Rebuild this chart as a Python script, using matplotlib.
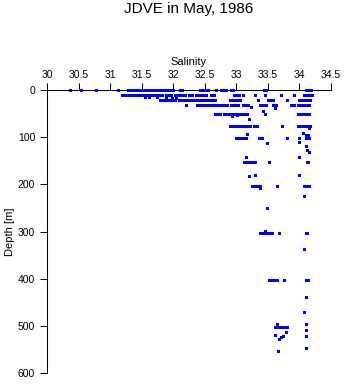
import matplotlib
matplotlib.use("Agg")
import matplotlib.pyplot as plt

plt.rcParams['font.family'] = ['Liberation Sans', 'DejaVu Sans']

title = "JDVE in May, 1986"
x_label = "Salinity"
y_label = "Depth [m]"
x_ticks = [30, 30.5, 31, 31.5, 32, 32.5, 33, 33.5, 34, 34.5]
x_tick_labels = ["30", "30.5", "31", "31.5", "32", "32.5", "33", "33.5", "34", "34.5"]
y_ticks = [0, 100, 200, 300, 400, 500, 600]

# Depth rows (depth value, salinity observations)
row_depths = [0, 11, 14, 18, 21, 31, 51, 77, 102, 152, 203, 303, 403, 503]
row_salinity = [
    [30.36, 30.54, 30.77, 31.13, 31.28, 31.32, 31.36, 31.40, 31.44, 31.48, 31.52, 31.56,
     31.60, 31.64, 31.68, 31.72, 31.76, 31.80, 31.84, 31.87, 31.92, 31.96, 32.00, 32.10,
     32.14, 32.42, 32.46, 32.50, 32.55, 32.67, 32.75, 32.79, 32.83, 32.91, 32.95, 33.44,
     33.47, 34.10, 34.13, 34.16, 34.19],
    [31.19, 31.24, 31.28, 31.32, 31.36, 31.41, 31.46, 31.50, 31.54, 31.58, 31.62, 31.66,
     31.70, 31.74, 31.78, 31.82, 31.89, 31.93, 31.97, 32.03, 32.07, 32.11, 32.15, 32.19,
     32.25, 32.29, 32.36, 32.40, 32.44, 32.48, 32.52, 32.60, 32.65, 32.96, 33.00, 33.04,
     33.10, 33.30, 33.45, 33.70, 33.92, 34.08, 34.12, 34.16, 34.20],
    [31.55, 31.62, 31.75],
    [31.88, 31.98, 32.05],
    [31.79, 31.83, 31.87, 31.91, 31.95, 31.99, 32.03, 32.09, 32.13, 32.17, 32.21, 32.25,
     32.29, 32.33, 32.37, 32.42, 32.46, 32.50, 32.54, 32.58, 32.62, 32.66, 32.90, 32.94,
     32.98, 33.02, 33.06, 33.34, 33.50, 33.54, 33.58, 33.80, 34.00, 34.04, 34.08, 34.12,
     34.16],
    [32.20, 32.37, 32.41, 32.45, 32.50, 32.54, 32.58, 32.62, 32.66, 32.70, 32.74, 32.78,
     32.82, 32.86, 32.91, 32.95, 32.99, 33.03, 33.10, 33.14, 33.18, 33.37, 33.42, 33.47,
     33.58, 33.63, 33.86, 33.92, 33.97, 34.03, 34.07, 34.11, 34.15],
    [32.66, 32.70, 32.74, 32.80, 32.84, 32.88, 32.93, 32.97, 33.01, 33.05, 33.09, 33.13,
     33.17, 33.45, 33.97, 34.03, 34.07, 34.11, 34.15],
    [32.90, 32.94, 32.98, 33.02, 33.06, 33.10, 33.14, 33.18, 33.22, 33.28, 33.32, 33.73,
     33.97, 34.01, 34.05, 34.09, 34.13, 34.16],
    [33.00, 33.04, 33.08, 33.12, 33.16, 33.36, 33.41, 33.80, 34.00, 34.11, 34.15],
    [33.12, 33.16, 33.20, 33.25, 33.29, 33.51, 34.12, 34.14],
    [33.25, 33.29, 33.33, 33.37, 33.64, 34.07, 34.11, 34.15],
    [33.37, 33.41, 33.45, 33.49, 33.53, 33.56, 33.67, 34.10, 34.12],
    [33.51, 33.55, 33.59, 33.64, 33.75, 34.10, 34.13],
    [33.62, 33.66, 33.70, 33.74, 33.78, 33.81],
]

# Isolated observations
single_salinity = [33.24, 33.62, 33.43, 32.93, 33.01, 33.20, 34.15, 33.17, 34.05, 34.10,
                   34.14, 33.48, 34.00, 34.11, 34.12, 34.15, 33.15, 34.00, 33.20, 33.29,
                   33.99, 33.37, 34.07, 33.48, 33.45, 34.08, 34.10, 34.08, 34.10, 33.65,
                   33.78, 34.10, 33.74, 33.71, 33.67, 33.61, 34.10, 34.10, 33.66]
single_depth = [37, 38, 45, 56, 54, 62, 81, 93, 92, 95,
                95, 113, 110, 118, 128, 132, 143, 143, 182, 180,
                181, 207, 225, 251, 298, 338, 439, 471, 497, 497,
                514, 509, 521, 524, 528, 520, 521, 547, 554]

W, H = 346, 384
fig = plt.figure(figsize=(W / 100, H / 100), dpi=100)
ax = fig.add_axes([47 / W, 1 - 373 / H, (331 - 47) / W, (373 - 90) / H])

mk = dict(marker='s', linestyle='none', color='#0000ff', markersize=2.16,
          markeredgewidth=0, clip_on=False, zorder=5)
for d, sal in zip(row_depths, row_salinity):
    ax.plot(sal, [d] * len(sal), **mk)
ax.plot(single_salinity, single_depth, **mk)

ax.set_xlim(30, 34.5)
ax.set_ylim(600, 0)
ax.xaxis.tick_top()
ax.xaxis.set_label_position('top')
ax.set_xticks(x_ticks)
ax.set_xticklabels(x_tick_labels)
ax.set_yticks(y_ticks)
ax.tick_params(axis='both', direction='out', length=5, width=0.75, labelsize=7.5,
               color='black')
ax.tick_params(axis='x', pad=2)
ax.tick_params(axis='y', pad=3.5)
for side in ['right', 'bottom']:
    ax.spines[side].set_visible(False)
for side in ['top', 'left']:
    ax.spines[side].set_linewidth(0.75)
ax.set_xlabel(x_label, fontsize=8, labelpad=4)
ax.set_ylabel(y_label, fontsize=8, labelpad=2)

fig.text((47 + 331) / 2 / W, 1 - 13 / H, title, ha='center', va='baseline', fontsize=11)

fig.savefig("out.png", dpi=100)
